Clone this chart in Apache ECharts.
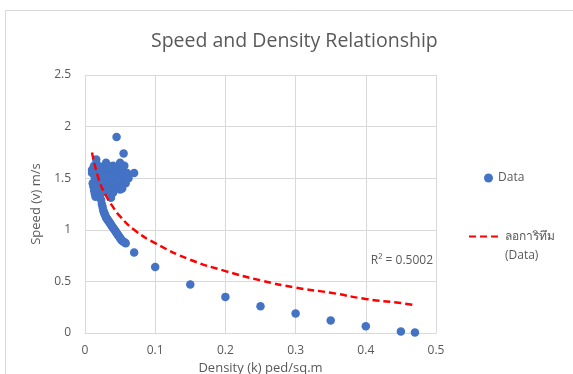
<!DOCTYPE html>
<html>
<head>
<meta charset="utf-8">
<script src="https://cdn.jsdelivr.net/npm/echarts@6/dist/echarts.min.js"></script>
<style>
  html, body { margin: 0; padding: 0; background: #fff; }
  #chart { width: 573px; height: 374px; }
</style>
</head>
<body>
<div id="chart"></div>
<script>
// observed points [density k, speed v]
var clusterPts = [
  [0.010,1.58],[0.010,1.55],[0.011,1.45],[0.012,1.60],[0.013,1.62],[0.016,1.68],
  [0.012,1.42],[0.013,1.38],[0.014,1.35],[0.015,1.32],[0.016,1.40],[0.017,1.45],
  [0.018,1.50],[0.019,1.38],[0.020,1.33],[0.021,1.42],[0.022,1.47],[0.023,1.29],
  [0.024,1.36],[0.025,1.44],[0.026,1.52],[0.027,1.58],[0.028,1.62],[0.030,1.65],
  [0.031,1.60],[0.032,1.55],[0.033,1.50],[0.034,1.46],[0.035,1.42],[0.036,1.38],
  [0.037,1.31],[0.038,1.48],[0.039,1.56],[0.040,1.62],[0.041,1.52],[0.042,1.44],
  [0.043,1.58],[0.044,1.50],[0.045,1.40],[0.046,1.54],[0.047,1.61],[0.048,1.46],
  [0.049,1.57],[0.050,1.65],[0.051,1.50],[0.052,1.43],[0.053,1.60],[0.054,1.55],
  [0.055,1.48],[0.056,1.62],[0.057,1.52],[0.058,1.45],[0.060,1.55],[0.062,1.50],
  [0.034,1.58],[0.036,1.53],[0.029,1.45],[0.027,1.40],[0.050,1.39],[0.053,1.40],
  [0.040,1.36],[0.031,1.37],[0.014,1.50],[0.017,1.56],[0.020,1.52],[0.023,1.58],
  [0.019,1.62],[0.024,1.48],[0.028,1.52],[0.033,1.62],
  [0.045,1.90],[0.055,1.74],[0.070,1.55]
];
var branchPts = [
  [0.024,1.25],[0.025,1.22],[0.026,1.19],[0.027,1.17],[0.028,1.15],[0.029,1.14],
  [0.030,1.12],[0.031,1.11],[0.032,1.10],[0.033,1.09],[0.034,1.08],[0.035,1.07],
  [0.036,1.06],[0.037,1.05],[0.038,1.04],[0.039,1.03],[0.040,1.02],[0.041,1.01],
  [0.042,1.00],[0.043,0.99],[0.044,0.98],[0.045,0.97],[0.046,0.96],[0.047,0.95],
  [0.048,0.94],[0.049,0.93],[0.050,0.92],[0.051,0.91],[0.052,0.90],[0.054,0.89],
  [0.056,0.88],[0.058,0.87]
];
var tailPts = [
  [0.07,0.78],[0.10,0.64],[0.15,0.47],[0.20,0.35],[0.25,0.26],[0.30,0.19],
  [0.35,0.12],[0.40,0.065],[0.45,0.015],[0.47,0.005]
];
// logarithmic trendline
var trendPts = [
  [0.01,1.75],[0.02,1.48],[0.03,1.33],[0.04,1.22],[0.05,1.13],[0.07,1.00],
  [0.10,0.87],[0.15,0.71],[0.20,0.60],[0.25,0.51],[0.30,0.44],[0.35,0.39],
  [0.40,0.33],[0.45,0.29],[0.47,0.27]
];
var titleText = 'Speed and Density Relationship';
var xName = 'Density (k) ped/sq.m';
var yName = 'Speed (v) m/s';
var dataName = 'Data';
var trendName = 'ลอการิทึม\n(Data)';
var r2Text = 'R² = 0.5002';

var FONT = '"Open Sans", "Noto Sans", sans-serif';
var GREY = '#595959';

var myChart = echarts.init(document.getElementById('chart'));
var option = {
  animation: false,
  title: {
    text: titleText,
    left: 146,
    top: 26,
    textStyle: { color: GREY, fontSize: 19.5, fontWeight: 'normal', fontFamily: FONT }
  },
  legend: [{
    data: [dataName],
    orient: 'vertical',
    left: 479,
    top: 167,
    icon: 'circle',
    itemWidth: 9,
    itemHeight: 9,
    textStyle: { color: GREY, fontSize: 12, fontFamily: FONT }
  }, {
    data: [trendName],
    orient: 'vertical',
    left: 463,
    top: 203,
    itemWidth: 31,
    itemHeight: 14,
    itemStyle: { opacity: 0 },
    // blank first line so the line sample sits beside the first text row
    formatter: function (n) { return ' \n' + n; },
    textStyle: { color: GREY, fontSize: 12, fontFamily: FONT, lineHeight: 19 }
  }],
  grid: { left: 85, right: 137, top: 75, bottom: 41, outerBoundsMode: 'none' },
  xAxis: {
    type: 'value',
    min: 0, max: 0.5, interval: 0.1,
    name: xName,
    nameLocation: 'middle',
    nameGap: 26,
    nameTextStyle: { color: GREY, fontSize: 13, fontFamily: FONT },
    axisLine: { show: true, lineStyle: { color: '#d9d9d9' } },
    axisTick: { show: false },
    axisLabel: { color: GREY, fontSize: 12, margin: 12, fontFamily: FONT },
    splitLine: { show: true, lineStyle: { color: '#d9d9d9' } }
  },
  yAxis: {
    type: 'value',
    min: 0, max: 2.5, interval: 0.5,
    name: yName,
    nameLocation: 'middle',
    nameRotate: 90,
    nameGap: 40,
    nameTextStyle: { color: GREY, fontSize: 13, fontFamily: FONT },
    axisLine: { show: false },
    axisTick: { show: false },
    axisLabel: { color: GREY, fontSize: 12, margin: 14, fontFamily: FONT },
    splitLine: { show: true, lineStyle: { color: '#d9d9d9' } }
  },
  series: [{
    name: dataName,
    type: 'scatter',
    symbolSize: 8.5,
    itemStyle: { color: '#4472C4', opacity: 1 },
    data: clusterPts.concat(branchPts, tailPts),
    z: 2
  }, {
    name: trendName,
    type: 'line',
    smooth: true,
    showSymbol: false,
    symbol: 'none',
    lineStyle: { color: '#ff0000', width: 2.5, type: [7, 4] },
    itemStyle: { color: '#ff0000' },
    data: trendPts,
    z: 3
  }],
  graphic: [{
    type: 'rect',
    shape: { x: 5.5, y: 10.5, width: 700, height: 500 },
    style: { fill: 'none', stroke: '#d9d9d9', lineWidth: 1 },
    silent: true
  }, {
    type: 'text',
    right: 140,
    top: 255,
    style: { text: r2Text, fill: GREY, font: '12px ' + FONT }
  }]
};
myChart.setOption(option);
</script>
</body>
</html>
